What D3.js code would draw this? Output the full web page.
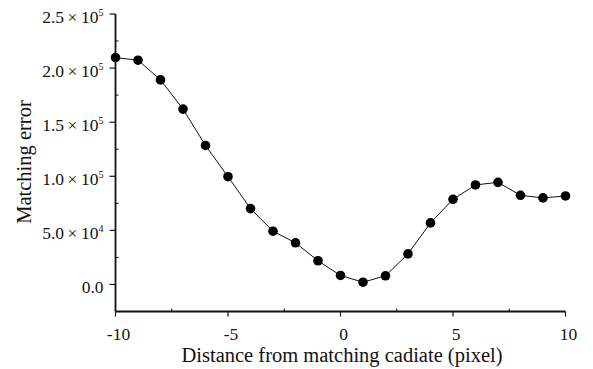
<!DOCTYPE html>
<html>
<head>
<meta charset="utf-8">
<script src="https://cdn.jsdelivr.net/npm/d3@7"></script>
<style>
  body { margin: 0; background: #fff; }
  text { font-family: "Liberation Serif", "DejaVu Serif", serif; fill: #111; }
</style>
</head>
<body>
<script>
const distance = [-10, -9, -8, -7, -6, -5, -4, -3, -2, -1, 0, 1, 2, 3, 4, 5, 6, 7, 8, 9, 10];
const matchError = [209700, 207300, 189100, 162100, 128500, 99600, 70100, 49200, 38500, 21900,
                    8300, 2100, 8000, 28300, 56900, 78700, 92000, 94400, 82400, 80000, 81800];
const yTicks = [0, 50000, 100000, 150000, 200000, 250000];
const yTickMant = ["0.0", "5.0", "1.0", "1.5", "2.0", "2.5"];
const yTickExp = ["", "4", "5", "5", "5", "5"];
const xTicks = [-10, -5, 0, 5, 10];

let width = 593, height = 369;
const padLeft = 115.5, padRight = 565.5, padTop = 14, padBottom = 311.5;

const x = d3.scaleLinear().domain([-10, 10]).range([padLeft, padRight]);
const y = d3.scaleLinear().domain([-25000, 250000]).range([padBottom, padTop]);

const svg = d3.select("body").append("svg")
    .attr("width", width)
    .attr("height", height);

// axes lines
svg.append("line")
    .attr("x1", padLeft).attr("x2", padLeft)
    .attr("y1", y(250000)).attr("y2", padBottom)
    .attr("stroke", "#111").attr("stroke-width", 1.8);
svg.append("line")
    .attr("x1", padLeft).attr("x2", padRight)
    .attr("y1", padBottom).attr("y2", padBottom)
    .attr("stroke", "#111").attr("stroke-width", 1.8);

// y ticks
const yMinor = d3.range(25000, 250000, 50000);
svg.selectAll(".ymin").data(yMinor).enter().append("line")
    .attr("x1", padLeft).attr("x2", padLeft + 3)
    .attr("y1", d => y(d)).attr("y2", d => y(d))
    .attr("stroke", "#111");
svg.selectAll(".ymaj").data(yTicks).enter().append("line")
    .attr("x1", padLeft - 6).attr("x2", padLeft)
    .attr("y1", d => y(d)).attr("y2", d => y(d))
    .attr("stroke", "#111").attr("stroke-width", 1.2);

const yl = svg.selectAll(".ylab").data(yTicks).enter().append("text")
    .attr("x", padLeft - 12)
    .attr("y", d => y(d) + 9)
    .attr("text-anchor", "end")
    .attr("font-size", "17.5px");
yl.append("tspan").text((d, i) => yTickMant[i] + (yTickExp[i] ? "\u2009×\u200910" : ""));
yl.append("tspan")
    .attr("dy", -7)
    .attr("font-size", "10px")
    .text((d, i) => yTickExp[i]);

// x ticks
const xMinor = [-7.5, -2.5, 2.5, 7.5];
svg.selectAll(".xmin").data(xMinor).enter().append("line")
    .attr("x1", d => x(d)).attr("x2", d => x(d))
    .attr("y1", padBottom - 3).attr("y2", padBottom)
    .attr("stroke", "#111");
svg.selectAll(".xmaj").data(xTicks).enter().append("line")
    .attr("x1", d => x(d)).attr("x2", d => x(d))
    .attr("y1", padBottom).attr("y2", padBottom + 5)
    .attr("stroke", "#111").attr("stroke-width", 1.2);
svg.selectAll(".xlab").data(xTicks).enter().append("text")
    .attr("x", d => x(d) + 3)
    .attr("y", 339.5)
    .attr("text-anchor", "middle")
    .attr("font-size", "17.5px")
    .text(d => d < 0 ? "-" + Math.abs(d) : d);

// axis titles
svg.append("text")
    .attr("x", 342).attr("y", 362)
    .attr("text-anchor", "middle")
    .attr("font-size", "20.5px")
    .text("Distance from matching cadiate (pixel)");
svg.append("text")
    .attr("transform", "translate(31," + 162 + ") rotate(-90)")
    .attr("text-anchor", "middle")
    .attr("font-size", "20.5px")
    .text("Matching error");

// curve
const data = distance.map((d, i) => ({x: d, y: matchError[i]}));
svg.append("path")
    .datum(data)
    .attr("fill", "none")
    .attr("stroke", "#111")
    .attr("stroke-width", 1)
    .attr("d", d3.line().x(d => x(d.x)).y(d => y(d.y)));

svg.selectAll(".pt").data(data).enter().append("circle")
    .attr("cx", d => x(d.x))
    .attr("cy", d => y(d.y))
    .attr("r", 4.8)
    .attr("fill", "#000");
</script>
</body>
</html>
